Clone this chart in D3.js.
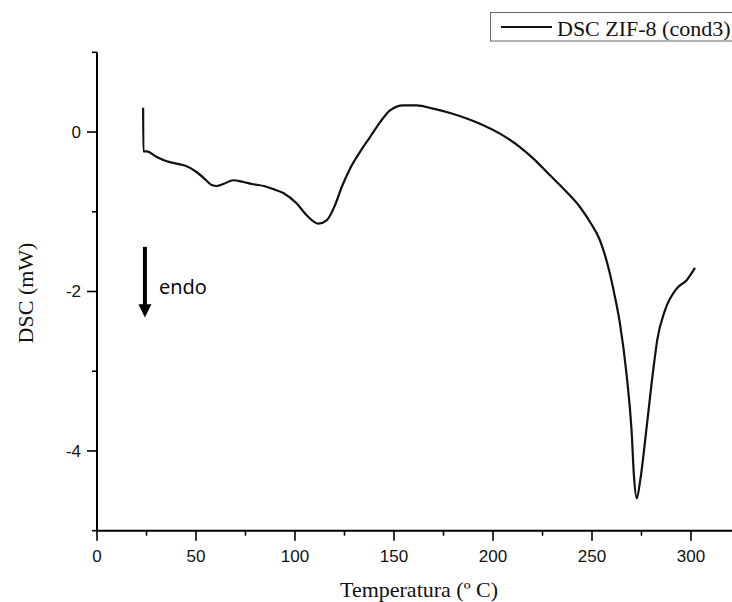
<!DOCTYPE html>
<html><head><meta charset="utf-8">
<script src="https://cdn.jsdelivr.net/npm/d3@7"></script>
<style>
html,body{margin:0;padding:0;background:#fff;}
svg{display:block;}
</style></head>
<body>
<svg id="chart" width="732" height="602"></svg>
<script>
const temps = [23.3,23.4,25.1,30.2,35.2,41.9,45.3,49.5,53.7,57.9,60.5,63.8,68.8,73.9,78.9,84.8,89.0,94.1,100.9,105.9,111.8,116.0,120.2,123.6,127.8,132.8,137.9,143.0,148.0,154.7,161.5,169.8,178.3,188.4,193.4,203.5,213.6,220.4,228.8,237.2,243.9,249.0,254.0,258.2,261.6,264.1,267.5,270.0,271.2,272.6,274.4,277.6,280.9,283.0,286.9,292.8,297.8,302.0];
const dsc = [0.306,-0.242,-0.242,-0.313,-0.367,-0.405,-0.43,-0.489,-0.571,-0.664,-0.677,-0.652,-0.605,-0.627,-0.655,-0.68,-0.715,-0.765,-0.897,-1.044,-1.148,-1.107,-0.918,-0.689,-0.459,-0.251,-0.063,0.125,0.272,0.335,0.335,0.293,0.238,0.155,0.105,-0.02,-0.188,-0.333,-0.543,-0.752,-0.94,-1.128,-1.357,-1.692,-2.068,-2.40,-3.05,-3.75,-4.32,-4.594,-4.36,-3.70,-2.99,-2.60,-2.234,-1.962,-1.858,-1.704];
const xMajor = [0,50,100,150,200,250,300];
const xMinor = [25,75,125,175,225,275];
const yMajor = [0,-2,-4];
const yMinor = [1,-1,-3,-5];
const seriesName = "DSC ZIF-8 (cond3)";
const xTitle = "Temperatura (º C)";
const yTitle = "DSC (mW)";
const annotation = "endo";
const arrowT = 24.2, arrowFrom = -1.44, arrowTo = -2.326, arrowHead = -2.16;

const svg = d3.select("#chart");
const x = d3.scaleLinear().domain([0,320]).range([97,730.6]);
const y = d3.scaleLinear().domain([-5,1]).range([530.7,52.3]);
const sans = "'Liberation Sans', Arial, sans-serif";
const serif = "'Liberation Serif', 'Times New Roman', serif";

const ax = svg.append("g").attr("stroke","#000").attr("stroke-width",2).attr("fill","none");
ax.append("line").attr("x1",x(0)).attr("x2",732).attr("y1",y(-5)).attr("y2",y(-5));
ax.append("line").attr("x1",x(0)).attr("x2",x(0)).attr("y1",y(1)).attr("y2",y(-5));

const tk = svg.append("g").attr("stroke","#000").attr("stroke-width",1.6);
xMajor.forEach(t=>tk.append("line").attr("x1",x(t)).attr("x2",x(t)).attr("y1",y(-5)).attr("y2",y(-5)+10));
xMinor.forEach(t=>tk.append("line").attr("x1",x(t)).attr("x2",x(t)).attr("y1",y(-5)).attr("y2",y(-5)+5));
yMajor.forEach(t=>tk.append("line").attr("x1",x(0)).attr("x2",x(0)-10).attr("y1",y(t)).attr("y2",y(t)));
yMinor.forEach(t=>tk.append("line").attr("x1",x(0)).attr("x2",x(0)-5).attr("y1",y(t)).attr("y2",y(t)));

svg.append("g").selectAll("text").data(xMajor).join("text")
  .attr("x",d=>x(d)).attr("y",562).attr("text-anchor","middle")
  .attr("font-family",sans).attr("font-size",17).attr("fill","#111").text(d=>d);
svg.append("g").selectAll("text").data(yMajor).join("text")
  .attr("x",81).attr("y",d=>y(d)).attr("dy","0.35em").attr("text-anchor","end")
  .attr("font-family",sans).attr("font-size",17).attr("fill","#111").text(d=>d);

svg.append("text").attr("x",419).attr("y",597).attr("text-anchor","middle")
  .attr("font-family",serif).attr("font-size",22).attr("fill","#111").text(xTitle);
svg.append("text").attr("transform","translate(33,293) rotate(-90)").attr("text-anchor","middle")
  .attr("font-family",serif).attr("font-size",22).attr("fill","#111").text(yTitle);

const pts = temps.map((t,i)=>[t,dsc[i]]);
const line = d3.line().x(d=>x(d[0])).y(d=>y(d[1])).curve(d3.curveMonotoneX);
svg.append("path").datum(pts).attr("d",line).attr("fill","none")
  .attr("stroke","#111").attr("stroke-width",2.2).attr("stroke-linejoin","round");

svg.append("line").attr("x1",x(arrowT)).attr("x2",x(arrowT)).attr("y1",y(arrowFrom)).attr("y2",y(arrowHead)+1)
  .attr("stroke","#000").attr("stroke-width",4);
svg.append("path").attr("fill","#000")
  .attr("d",`M${x(arrowT)-6.5},${y(arrowHead)} L${x(arrowT)+6.5},${y(arrowHead)} L${x(arrowT)},${y(arrowTo)} Z`);
svg.append("text").attr("x",159).attr("y",294).attr("font-family","'Open Sans', sans-serif")
  .attr("font-size",20).attr("fill","#000").text(annotation);

const lg = svg.append("g");
lg.append("rect").attr("x",490.5).attr("y",12.5).attr("width",260).attr("height",28.5)
  .attr("fill","#fff").attr("stroke","#666").attr("stroke-width",1);
lg.append("line").attr("x1",501).attr("x2",552).attr("y1",27).attr("y2",27).attr("stroke","#111").attr("stroke-width",2);
lg.append("text").attr("x",557).attr("y",35.5).attr("font-family",serif).attr("font-size",22).attr("fill","#111").text(seriesName);
</script>
</body></html>
